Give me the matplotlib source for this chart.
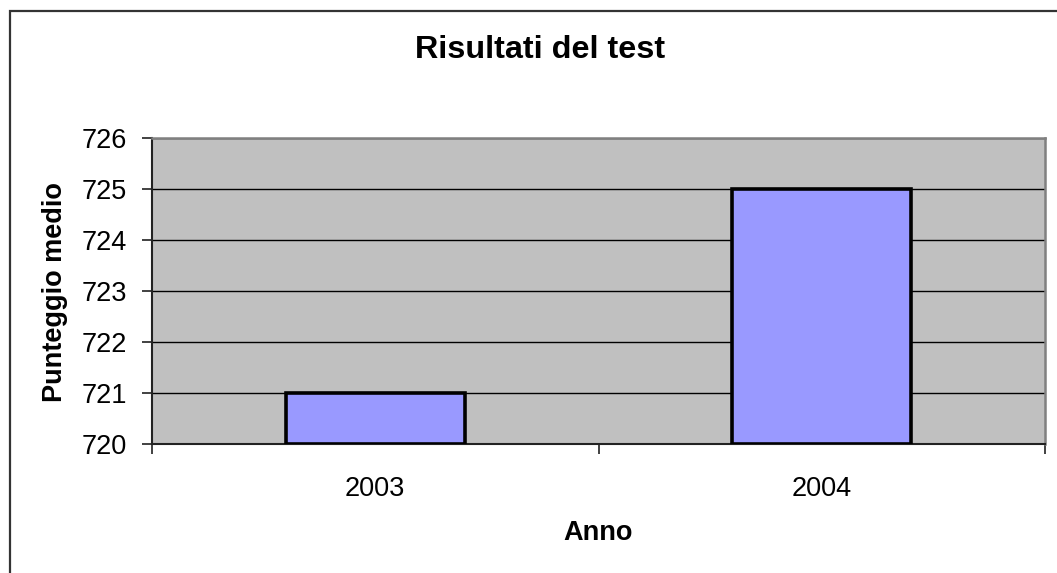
import matplotlib.pyplot as plt
from matplotlib.patches import Rectangle

# data
years = ["2003", "2004"]
scores = [721, 725]
y_ticks = [720, 721, 722, 723, 724, 725, 726]

plt.rcParams['font.family'] = ['Liberation Sans', 'DejaVu Sans']

W, H = 1057, 573
fig = plt.figure(figsize=(W / 100, H / 100), dpi=100)
fig.patch.set_facecolor("white")

# outer chart frame (only left/top edges visible in the crop)
fig.patches.append(Rectangle((10 / W, -0.2), 1.5, 0.2 + (H - 11) / H,
                             transform=fig.transFigure, fill=False,
                             edgecolor="#333333", linewidth=1.6))

ax = fig.add_axes([152 / W, (H - 444) / H, 893 / W, 306 / H])
ax.set_facecolor("#C0C0C0")

pos = list(range(len(years)))
ax.bar(pos, [s - y_ticks[0] for s in scores], bottom=y_ticks[0], width=0.400,
       color="#9999FF", edgecolor="black", linewidth=2.6, zorder=3)

ax.set_ylim(y_ticks[0], y_ticks[-1])
ax.set_xlim(-0.5, len(years) - 0.5)
ax.set_yticks(y_ticks)
ax.set_yticklabels([str(v) for v in y_ticks], fontsize=19.5)
ax.yaxis.grid(True, color="black", linewidth=1.0, zorder=1)
ax.set_axisbelow(True)

# category boundaries get ticks, labels sit in the middle
ax.set_xticks([p - 0.5 for p in pos] + [pos[-1] + 0.5])
ax.set_xticklabels([])
ax.set_xticks(pos, minor=True)
ax.set_xticklabels(years, minor=True, fontsize=19.5)
ax.tick_params(axis="x", which="minor", length=0, pad=23)
ax.tick_params(axis="x", which="major", length=7, width=1.3, direction="out", color="#333333")
ax.tick_params(axis="y", length=7, width=1.3, direction="out", pad=11, color="#333333")

for side in ("left", "bottom"):
    ax.spines[side].set_color("#222222")
    ax.spines[side].set_linewidth(1.5)
for side in ("top", "right"):
    ax.spines[side].set_color("#808080")
    ax.spines[side].set_linewidth(1.8)

fig.text(540 / W, 1 - 50 / H, "Risultati del test", ha="center", va="center",
         fontsize=23.3, fontweight="bold")
fig.text(55 / W, 1 - 292 / H, "Punteggio medio", ha="center", va="center",
         rotation=90, fontsize=19.5, fontweight="bold")
fig.text(598 / W, 1 - 533 / H, "Anno", ha="center", va="center",
         fontsize=19.5, fontweight="bold")

fig.savefig("out.png", dpi=100)
